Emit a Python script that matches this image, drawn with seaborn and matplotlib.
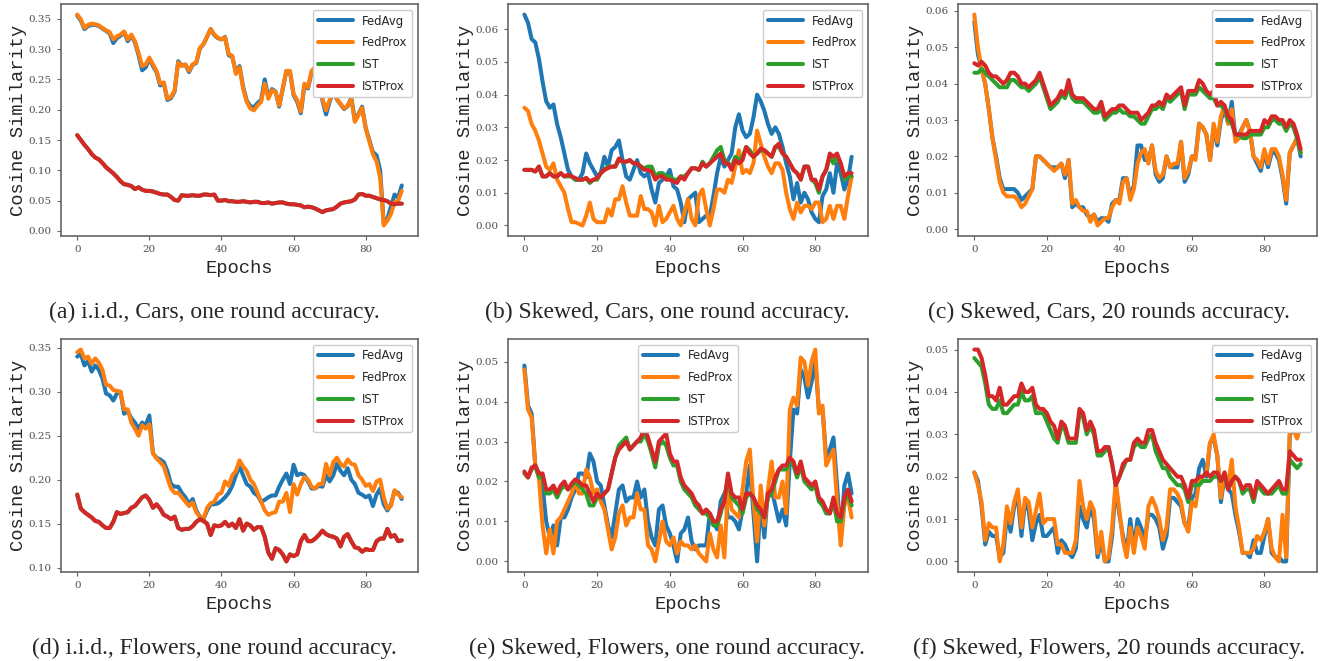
import numpy as np
import pandas as pd
import seaborn as sns
from matplotlib import pyplot as plt

methods = ['FedAvg', 'FedProx', 'IST', 'ISTProx']
colors = ['#1f77b4', '#ff7f0e', '#2ca02c', '#d62728']

# (a) i.i.d., Cars, one round
fedavg_a = [.355, .347, .333, .338, .340, .340, .338, .334, .330, .326,
            .310, .318, .322, .328, .313, .322, .311, .290, .265, .270,
            .284, .272, .262, .240, .244, .216, .219, .230, .280, .273,
            .274, .262, .274, .277, .301, .308, .320, .333, .323, .318,
            .316, .320, .290, .287, .262, .272, .238, .215, .206, .204,
            .211, .216, .250, .220, .234, .230, .205, .235, .264, .262,
            .224, .213, .194, .240, .235, .262, .268, .268, .215, .192,
            .213, .230, .217, .209, .201, .206, .220, .182, .193, .205,
            .170, .150, .130, .125, .100, .012, .020, .040, .060, .055,
            .075]
fedprox_a = [.357, .349, .335, .340, .342, .341, .339, .335, .331, .328,
             .316, .321, .324, .329, .316, .324, .313, .294, .272, .275,
             .286, .275, .264, .243, .245, .218, .221, .232, .278, .272,
             .275, .264, .275, .278, .302, .308, .321, .333, .324, .319,
             .316, .319, .292, .289, .259, .270, .235, .213, .202, .199,
             .207, .213, .243, .218, .232, .229, .207, .235, .264, .264,
             .226, .216, .197, .243, .237, .264, .270, .270, .218, .199,
             .216, .232, .218, .210, .202, .207, .218, .180, .191, .203,
             .169, .148, .126, .115, .088, .009, .017, .028, .047, .050,
             .066]
ist_a = [.158, .150, .142, .135, .127, .121, .118, .112, .105, .100,
         .095, .089, .082, .077, .076, .074, .069, .072, .068, .066,
         .066, .065, .063, .061, .060, .060, .056, .051, .050, .059,
         .058, .058, .059, .058, .058, .060, .060, .059, .060, .050,
         .050, .051, .049, .049, .048, .048, .049, .048, .047, .048,
         .048, .046, .046, .047, .045, .046, .047, .047, .045, .044,
         .044, .043, .042, .039, .040, .039, .037, .034, .031, .034,
         .035, .036, .040, .045, .047, .048, .049, .052, .060, .061,
         .058, .058, .056, .054, .052, .051, .049, .045, .044, .045,
         .045]
istprox_a = list(ist_a)

# (b) Skewed, Cars, one round
fedavg_b = [.0645, .062, .057, .056, .051, .044, .038, .036, .037, .031,
            .027, .022, .017, .015, .014, .014, .016, .022, .019, .017,
            .015, .016, .021, .018, .023, .024, .026, .020, .015, .014,
            .017, .020, .016, .015, .016, .011, .007, .013, .014, .015,
            .017, .012, .011, .007, .001, .008, .009, .010, .001, .002,
            .003, .003, .009, .016, .021, .018, .020, .022, .030, .034,
            .029, .027, .028, .033, .040, .038, .035, .031, .028, .030,
            .028, .024, .019, .015, .008, .013, .007, .010, .008, .004,
            .002, .001, .009, .011, .016, .010, .019, .016, .011, .014,
            .021]
fedprox_b = [.036, .035, .031, .029, .026, .022, .018, .017, .019, .014,
             .012, .010, .005, .001, .001, .0005, .000, .003, .007, .002,
             .001, .001, .001, .005, .003, .008, .008, .012, .007, .003,
             .003, .003, .009, .005, .005, .004, .000, .006, .001, .002,
             .004, .006, .002, .000, .004, .008, .002, .000, .009, .011,
             .005, .000, .005, .011, .011, .010, .014, .013, .018, .023,
             .016, .017, .016, .019, .029, .025, .021, .018, .016, .019,
             .019, .017, .010, .005, .002, .007, .004, .006, .006, .005,
             .007, .007, .001, .002, .006, .002, .006, .006, .002, .009,
             .015]
ist_b = [.017, .017, .017, .0165, .018, .015, .015, .016, .015, .015,
         .016, .015, .015, .015, .014, .014, .014, .0145, .013, .014,
         .014, .016, .017, .018, .018, .018, .020, .0195, .0195, .020,
         .019, .019, .018, .0175, .018, .018, .015, .016, .016, .015,
         .015, .014, .014, .015, .015, .016, .0175, .0175, .017, .0195,
         .018, .019, .021, .023, .024, .020, .019, .018, .021, .020,
         .021, .024, .023, .021, .022, .023, .023, .022, .021, .024,
         .024, .022, .021, .019, .017, .016, .014, .018, .018, .014,
         .013, .010, .015, .017, .021, .019, .021, .019, .014, .015,
         .015]
istprox_b = [.017, .017, .017, .0165, .018, .015, .015, .016, .015, .015,
             .016, .015, .0155, .015, .0145, .014, .014, .0145, .0135, .014,
             .0145, .016, .017, .0175, .018, .018, .0205, .0195, .0195, .020,
             .019, .019, .018, .017, .017, .0165, .014, .015, .015, .014,
             .014, .0135, .013, .015, .014, .016, .0175, .0175, .017, .019,
             .018, .019, .020, .021, .022, .019, .019, .017, .020, .019,
             .020, .024, .022, .021, .022, .0235, .023, .022, .021, .024,
             .025, .022, .021, .019, .017, .016, .014, .018, .018, .014,
             .014, .011, .015, .017, .022, .021, .022, .019, .015, .016,
             .016]

# (c) Skewed, Cars, 20 rounds
fedavg_c = [.057, .048, .044, .040, .033, .025, .020, .014, .011, .011,
            .011, .011, .010, .008, .009, .010, .011, .020, .020, .019,
            .018, .017, .017, .017, .018, .014, .019, .006, .007, .006,
            .006, .004, .003, .004, .002, .003, .003, .002, .007, .008,
            .008, .014, .014, .009, .012, .023, .023, .019, .019, .023,
            .015, .013, .014, .020, .017, .017, .017, .024, .013, .015,
            .020, .020, .029, .028, .026, .019, .028, .023, .030, .033,
            .029, .035, .025, .026, .028, .030, .027, .020, .018, .016,
            .021, .017, .021, .021, .019, .014, .007, .021, .023, .025,
            .020]
fedprox_c = [.059, .050, .044, .040, .033, .025, .019, .013, .010, .009,
             .009, .009, .008, .006, .007, .009, .011, .020, .020, .019,
             .018, .017, .016, .017, .018, .015, .019, .007, .008, .006,
             .005, .005, .002, .004, .001, .002, .003, .003, .006, .008,
             .007, .013, .014, .008, .011, .018, .021, .022, .018, .023,
             .016, .014, .015, .020, .017, .018, .018, .024, .014, .016,
             .020, .019, .029, .028, .026, .019, .029, .024, .031, .034,
             .029, .033, .024, .025, .028, .030, .027, .020, .019, .017,
             .022, .018, .022, .022, .020, .015, .008, .021, .023, .025,
             .021]
ist_c = [.043, .043, .044, .043, .042, .041, .040, .039, .039, .039,
         .041, .041, .040, .039, .039, .038, .039, .040, .042, .039,
         .036, .033, .034, .035, .037, .036, .039, .036, .035, .035,
         .035, .034, .033, .032, .032, .033, .030, .031, .032, .032,
         .033, .032, .032, .031, .031, .030, .029, .029, .031, .033,
         .033, .034, .033, .036, .035, .036, .037, .038, .033, .037,
         .037, .037, .039, .038, .037, .036, .036, .034, .034, .033,
         .030, .029, .026, .026, .025, .025, .026, .026, .026, .026,
         .028, .028, .030, .030, .029, .029, .027, .029, .028, .025,
         .021]
istprox_c = [.0456, .045, .046, .045, .043, .042, .042, .041, .040, .041,
             .043, .043, .042, .040, .040, .039, .040, .041, .043, .040,
             .037, .034, .035, .036, .038, .037, .041, .037, .036, .036,
             .036, .035, .034, .033, .033, .035, .031, .032, .033, .033,
             .034, .034, .033, .032, .032, .032, .030, .031, .032, .034,
             .034, .035, .034, .037, .036, .037, .038, .039, .034, .038,
             .038, .038, .041, .040, .038, .037, .038, .034, .035, .034,
             .031, .030, .026, .026, .026, .026, .027, .027, .027, .027,
             .030, .029, .031, .031, .030, .030, .028, .030, .029, .026,
             .022]

# (d) i.i.d., Flowers, one round
fedavg_d = [.340, .343, .330, .335, .323, .330, .325, .315, .298, .296,
            .290, .298, .300, .275, .278, .270, .265, .258, .265, .262,
            .273, .230, .225, .223, .220, .210, .195, .192, .192, .185,
            .180, .172, .178, .165, .158, .155, .165, .172, .172, .173,
            .176, .180, .185, .193, .205, .215, .205, .195, .192, .185,
            .182, .175, .177, .180, .182, .182, .192, .200, .207, .195,
            .217, .205, .207, .205, .198, .190, .190, .193, .192, .205,
            .198, .205, .218, .210, .205, .213, .200, .195, .185, .183,
            .180, .182, .170, .183, .190, .172, .165, .172, .187, .185,
            .178]
fedprox_d = [.345, .348, .338, .340, .332, .338, .333, .325, .308, .307,
             .302, .301, .300, .280, .280, .265, .258, .250, .262, .258,
             .263, .230, .224, .220, .215, .202, .190, .185, .185, .180,
             .175, .170, .174, .163, .158, .155, .168, .173, .175, .183,
             .185, .198, .193, .205, .210, .222, .215, .210, .200, .195,
             .185, .175, .165, .160, .162, .163, .175, .175, .185, .163,
             .195, .183, .195, .203, .200, .192, .190, .195, .195, .218,
             .205, .220, .225, .218, .215, .223, .218, .217, .205, .200,
             .193, .195, .187, .198, .200, .180, .167, .170, .188, .183,
             .180]
ist_d = [.183, .167, .163, .160, .157, .153, .152, .148, .145, .145,
         .152, .163, .161, .162, .163, .168, .170, .175, .180, .182,
         .177, .168, .172, .167, .160, .158, .155, .158, .145, .143,
         .144, .144, .147, .152, .155, .153, .150, .137, .148, .147,
         .148, .152, .147, .150, .145, .155, .142, .150, .148, .143,
         .146, .146, .135, .117, .110, .122, .120, .115, .107, .115,
         .113, .115, .130, .137, .130, .130, .133, .137, .142, .138,
         .136, .135, .133, .124, .135, .138, .130, .123, .122, .118,
         .121, .120, .120, .130, .133, .133, .144, .135, .137, .130,
         .131]
istprox_d = list(ist_d)

# (e) Skewed, Flowers, one round
fedavg_e = [.049, .039, .037, .024, .022, .019, .010, .006, .009, .004,
            .011, .011, .013, .016, .018, .022, .022, .021, .027, .025,
            .020, .019, .014, .009, .006, .012, .018, .019, .015, .016,
            .016, .020, .016, .018, .010, .006, .004, .013, .014, .009,
            .007, .004, .000, .007, .008, .011, .005, .003, .004, .004,
            .004, .012, .010, .008, .015, .017, .011, .011, .010, .008,
            .013, .017, .024, .012, .000, .015, .006, .018, .018, .014,
            .010, .013, .009, .025, .038, .037, .048, .046, .041, .045,
            .050, .038, .038, .026, .028, .031, .019, .006, .019, .022,
            .017]
fedprox_e = [.048, .038, .036, .024, .021, .009, .002, .008, .002, .010,
             .011, .013, .015, .017, .020, .017, .017, .023, .021, .017,
             .018, .015, .013, .008, .003, .006, .012, .014, .009, .011,
             .011, .017, .013, .013, .004, .003, .000, .005, .010, .005,
             .004, .006, .002, .005, .004, .004, .003, .004, .002, .001,
             .000, .007, .003, .001, .009, .001, .019, .013, .012, .011,
             .018, .025, .028, .015, .005, .019, .009, .018, .025, .016,
             .016, .020, .012, .038, .041, .039, .051, .050, .044, .050,
             .053, .037, .039, .024, .026, .028, .015, .004, .014, .016,
             .011]
ist_e = [.022, .021, .023, .024, .021, .021, .017, .017, .018, .016,
         .018, .019, .018, .019, .020, .019, .018, .017, .014, .014,
         .016, .016, .017, .018, .022, .026, .029, .030, .031, .028,
         .029, .030, .030, .032, .030, .027, .0235, .029, .030, .029,
         .026, .024, .024, .020, .018, .017, .016, .014, .013, .012,
         .012, .011, .009, .009, .012, .016, .021, .016, .015, .014,
         .012, .016, .017, .016, .013, .012, .011, .016, .017, .020,
         .023, .023, .023, .025, .024, .021, .024, .020, .019, .018,
         .019, .015, .014, .012, .012, .015, .010, .010, .015, .017,
         .014]
istprox_e = [.0225, .021, .0235, .024, .022, .022, .018, .018, .019, .017,
             .019, .020, .018, .0195, .0205, .020, .019, .019, .017, .015,
             .017, .016, .017, .018, .022, .026, .028, .029, .030, .028,
             .029, .030, .031, .0335, .031, .028, .025, .030, .031, .032,
             .027, .025, .025, .021, .019, .018, .017, .015, .014, .012,
             .013, .012, .010, .010, .013, .015, .022, .017, .016, .016,
             .013, .017, .017, .016, .014, .013, .011, .017, .018, .021,
             .023, .024, .024, .026, .025, .022, .025, .021, .020, .019,
             .020, .016, .015, .013, .012, .016, .012, .011, .016, .018,
             .015]

# (f) Skewed, Flowers, 20 rounds
fedavg_f = [.021, .019, .013, .004, .007, .006, .006, .001, .002, .011,
            .007, .013, .015, .006, .014, .012, .005, .009, .011, .006,
            .006, .007, .008, .002, .005, .004, .002, .001, .003, .013,
            .010, .008, .013, .010, .001, .005, .000, .000, .006, .018,
            .011, .006, .002, .010, .003, .010, .008, .005, .011, .011,
            .010, .008, .003, .006, .015, .015, .014, .013, .009, .008,
            .015, .016, .022, .024, .020, .028, .029, .025, .014, .020,
            .017, .016, .011, .007, .002, .002, .001, .005, .002, .002,
            .006, .010, .002, .001, .001, .000, .000, .030, .031, .030,
            .034]
fedprox_f = [.021, .018, .014, .005, .009, .008, .008, .000, .004, .013,
             .009, .014, .017, .008, .015, .014, .008, .012, .016, .009,
             .010, .010, .010, .004, .004, .002, .002, .002, .005, .019,
             .013, .010, .014, .012, .002, .007, .000, .001, .008, .019,
             .012, .005, .001, .008, .002, .008, .006, .003, .013, .015,
             .013, .010, .005, .008, .017, .017, .016, .014, .009, .007,
             .014, .013, .019, .020, .021, .028, .030, .025, .015, .021,
             .018, .024, .013, .008, .002, .002, .002, .003, .006, .005,
             .007, .010, .003, .001, .000, .011, .001, .031, .031, .029,
             .032]
ist_f = [.048, .047, .046, .042, .037, .036, .036, .038, .035, .035,
         .036, .037, .037, .040, .038, .038, .039, .035, .035, .035,
         .033, .031, .029, .028, .032, .031, .028, .028, .028, .035,
         .034, .030, .032, .030, .025, .025, .026, .027, .023, .018,
         .020, .022, .024, .024, .027, .028, .027, .027, .029, .030,
         .026, .024, .022, .022, .020, .019, .018, .018, .017, .014,
         .018, .018, .018, .019, .019, .019, .020, .020, .019, .020,
         .017, .019, .020, .019, .016, .017, .017, .014, .018, .017,
         .016, .016, .016, .017, .018, .016, .016, .024, .023, .022,
         .023]
istprox_f = [.050, .050, .048, .044, .039, .039, .038, .041, .037, .037,
             .038, .039, .039, .042, .040, .040, .041, .037, .036, .036,
             .035, .033, .032, .029, .033, .032, .029, .029, .029, .036,
             .035, .031, .033, .031, .026, .026, .027, .027, .023, .018,
             .020, .023, .024, .024, .028, .029, .028, .028, .031, .031,
             .028, .026, .024, .023, .022, .021, .020, .020, .018, .015,
             .019, .019, .020, .020, .021, .020, .021, .021, .019, .021,
             .017, .019, .020, .019, .017, .018, .018, .015, .019, .018,
             .017, .016, .017, .018, .019, .017, .017, .026, .025, .024,
             .024]

captions = ['(a) i.i.d., Cars, one round accuracy.',
            '(b) Skewed, Cars, one round accuracy.',
            '(c) Skewed, Cars, 20 rounds accuracy.',
            '(d) i.i.d., Flowers, one round accuracy.',
            '(e) Skewed, Flowers, one round accuracy.',
            '(f) Skewed, Flowers, 20 rounds accuracy.']
panel_data = [[fedavg_a, fedprox_a, ist_a, istprox_a],
              [fedavg_b, fedprox_b, ist_b, istprox_b],
              [fedavg_c, fedprox_c, ist_c, istprox_c],
              [fedavg_d, fedprox_d, ist_d, istprox_d],
              [fedavg_e, fedprox_e, ist_e, istprox_e],
              [fedavg_f, fedprox_f, ist_f, istprox_f]]
legend_locs = ['upper right', 'upper right', 'upper right',
               'upper right', 'upper center', 'upper right']

sns.set_style('ticks')
plt.rcParams['font.family'] = ['DejaVu Sans']

W, H = 1322, 661
fig = plt.figure(figsize=(W / 100, H / 100), dpi=100)

# положение осей в пикселях: левый край, ширина
lefts = [(61, 357), (508, 360), (958, 359)]
rows = [(4, 236), (339, 572)]
cap_x = [214, 667, 1109]
cap_y = [312, 648]

for k in range(6):
    r, c = divmod(k, 3)
    left, width = lefts[c]
    top, bottom = rows[r]
    ax = fig.add_axes([left / W, 1 - bottom / H, width / W, (bottom - top) / H])

    frames = []
    for name, vals in zip(methods, panel_data[k]):
        frames.append(pd.DataFrame({'Epochs': np.arange(len(vals)),
                                    'value': vals, 'method': name}))
    df = pd.concat(frames, ignore_index=True)
    sns.lineplot(data=df, x='Epochs', y='value', hue='method',
                 hue_order=methods, palette=colors, linewidth=2.9,
                 legend=False, ax=ax)

    ax.set_xticks([0, 20, 40, 60, 80])
    ax.set_xlabel('Epochs', family='Liberation Mono', fontsize=13.5)
    ax.set_ylabel('Cosine Similarity', family='Liberation Mono',
                  fontsize=13.5, labelpad=1)
    for sp in ax.spines.values():
        sp.set_visible(True)
        sp.set_color('0.4')
        sp.set_linewidth(1.2)
    ax.tick_params(colors='0.4', labelcolor='0.3', labelsize=7.5, length=3)
    for lab in ax.get_xticklabels() + ax.get_yticklabels():
        lab.set_family('DejaVu Serif')

    ax.legend(ax.lines, methods, loc=legend_locs[k], fontsize=8.4,
              handlelength=3.0, labelspacing=0.75, framealpha=1.0,
              edgecolor='0.8')

    fig.text(cap_x[c] / W, 1 - cap_y[r] / H, captions[k], ha='center',
             va='center', family='Liberation Serif', fontsize=17)

fig.savefig('out.png', dpi=100)
